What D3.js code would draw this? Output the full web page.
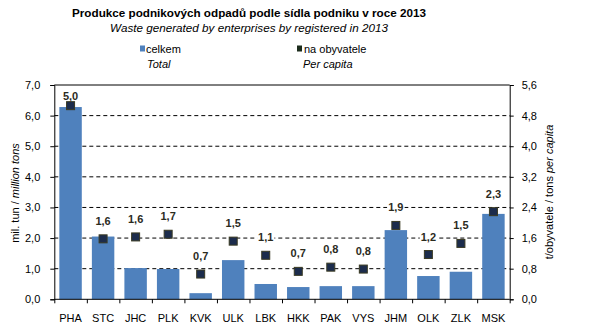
<!DOCTYPE html>
<html><head><meta charset="utf-8">
<script src="https://cdn.jsdelivr.net/npm/d3@7"></script>
<style>body{margin:0;background:#fff}svg{display:block;font-family:Arial,"Liberation Sans",sans-serif}</style>
</head><body><svg id="c" width="595" height="331"></svg>
<script>
const categories = ["PHA","STC","JHC","PLK","KVK","ULK","LBK","HKK","PAK","VYS","JHM","OLK","ZLK","MSK"];
const totalValues = [6.28,2.05,1.02,0.99,0.20,1.28,0.50,0.40,0.43,0.43,2.26,0.76,0.90,2.79];
const perCapitaValues = [5.0,1.6,1.6,1.7,0.7,1.5,1.1,0.7,0.8,0.8,1.9,1.2,1.5,2.3];
const perCapitaPlotted = [5.06,1.58,1.63,1.70,0.66,1.52,1.15,0.73,0.84,0.79,1.93,1.17,1.46,2.29];
const leftTicks = [0,1,2,3,4,5,6,7];
const rightTicks = [0,0.8,1.6,2.4,3.2,4.0,4.8,5.6];

const svg = d3.select("#c");
const L = 54.3, R = 509.7, T = 85, B = 299.3;
const fmt = d => d.toFixed(1).replace(".", ",");
const x = d3.scaleBand().domain(categories).range([L, R]).paddingInner(0.31).paddingOuter(0.155);
const yL = d3.scaleLinear().domain([0, 7]).range([B, T]);
const yR = d3.scaleLinear().domain([0, 5.6]).range([B, T]);

// gridlines
svg.append("g").selectAll("line").data(leftTicks.filter(d => d > 0 && d < 7)).join("line")
  .attr("x1", L).attr("x2", R).attr("y1", d => yL(d)).attr("y2", d => yL(d))
  .attr("stroke", "#000").attr("stroke-width", 1).attr("stroke-dasharray", "4,3");
svg.append("line").attr("x1", L).attr("x2", R).attr("y1", yL(7)).attr("y2", yL(7)).attr("stroke", "#000");

// bars
svg.append("g").selectAll("rect").data(categories).join("rect")
  .attr("x", d => x(d)).attr("width", x.bandwidth())
  .attr("y", (d, i) => yL(totalValues[i])).attr("height", (d, i) => B - yL(totalValues[i]))
  .attr("fill", "#4F81BD");

// axes
const gl = svg.append("g").attr("transform", `translate(${L},0)`)
  .call(d3.axisLeft(yL).tickValues(leftTicks).tickFormat(fmt).tickSize(4).tickPadding(10));
const gr = svg.append("g").attr("transform", `translate(${R},0)`)
  .call(d3.axisRight(yR).tickValues(rightTicks).tickFormat(fmt).tickSize(4).tickPadding(8));
const bx = d3.scaleLinear().domain([0, categories.length]).range([L, R]);
const gx = svg.append("g").attr("transform", `translate(0,${B})`)
  .call(d3.axisBottom(bx).tickValues(d3.range(categories.length + 1)).tickFormat("").tickSize(4));
[gl, gr, gx].forEach(g => {
  g.select(".domain").attr("stroke", "#000");
  g.selectAll(".tick line").attr("stroke", "#000");
  g.selectAll("text").attr("font-size", 11).attr("fill", "#000").attr("font-family", "Arial, 'Liberation Sans', sans-serif");
});
gx.select(".domain").attr("d", `M${L},0H${R}`);
svg.append("g").selectAll("text").data(categories).join("text")
  .attr("x", d => x(d) + x.bandwidth() / 2).attr("y", 322)
  .attr("text-anchor", "middle").attr("font-size", 11).text(d => d);

// per capita markers
const ms = 8;
svg.append("g").selectAll("rect").data(categories).join("rect")
  .attr("x", d => x(d) + x.bandwidth() / 2 - ms / 2)
  .attr("y", (d, i) => yR(perCapitaPlotted[i]) - ms / 2)
  .attr("width", ms).attr("height", ms)
  .attr("fill", "#1C2C4C").attr("stroke", "#3A3A22").attr("stroke-width", 1);
const lblG = svg.append("g");
const lbls = lblG.selectAll("g").data(categories).join("g");
const lblText = lbls.append("text")
  .attr("x", d => x(d) + x.bandwidth() / 2)
  .attr("y", (d, i) => Math.max(yR(perCapitaPlotted[i]) - 14, 100))
  .attr("text-anchor", "middle").attr("font-size", 11).attr("font-weight", "bold").attr("fill", "#2b2b1e")
  .text((d, i) => fmt(perCapitaValues[i]));
lblText.each(function() {
  const b = this.getBBox();
  d3.select(this.parentNode).insert("rect", "text")
    .attr("x", b.x - 1).attr("y", b.y + 1).attr("width", b.width + 2).attr("height", b.height - 2)
    .attr("fill", "#fff");
});

// titles
svg.append("text").attr("x", 249).attr("y", 17).attr("text-anchor", "middle")
  .attr("font-size", 11.7).attr("font-weight", "bold").text("Produkce podnikových odpadů podle sídla podniku v roce 2013");
svg.append("text").attr("x", 249).attr("y", 31.5).attr("text-anchor", "middle")
  .attr("font-size", 11.7).attr("font-style", "italic").text("Waste generated by enterprises by registered in 2013");

// legend
svg.append("rect").attr("x", 140).attr("y", 45.5).attr("width", 5).attr("height", 6).attr("fill", "#4F81BD");
svg.append("text").attr("x", 146).attr("y", 53).attr("font-size", 11).text("celkem");
svg.append("text").attr("x", 147).attr("y", 68).attr("font-size", 11).attr("font-style", "italic").text("Total");
svg.append("rect").attr("x", 297).attr("y", 45.5).attr("width", 5).attr("height", 6).attr("fill", "#1C2C1C");
svg.append("text").attr("x", 304).attr("y", 53).attr("font-size", 11).text("na obyvatele");
svg.append("text").attr("x", 303).attr("y", 68).attr("font-size", 11).attr("font-style", "italic").text("Per capita");

// axis titles
const lt = svg.append("text").attr("transform", "translate(19,193) rotate(-90)").attr("text-anchor", "middle").attr("font-size", 11);
lt.append("tspan").text("mil. tun  /  ");
lt.append("tspan").attr("font-style", "italic").text("million tons");
const rt = svg.append("text").attr("transform", "translate(553,192) rotate(-90)").attr("text-anchor", "middle").attr("font-size", 11);
rt.append("tspan").text("t/obyvatele  /  tons ");
rt.append("tspan").attr("font-style", "italic").text("per capita");
</script></body></html>
